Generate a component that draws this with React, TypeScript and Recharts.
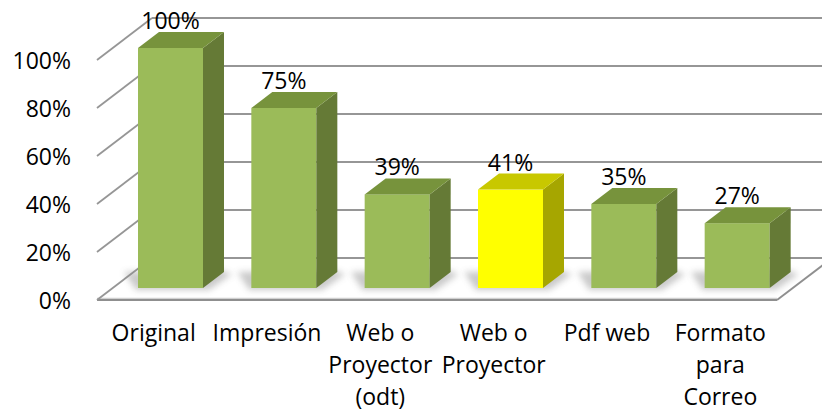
import React from 'react';
import { BarChart, Bar, XAxis, YAxis, CartesianGrid, LabelList } from 'recharts';

const categories = [
  'Original',
  'Impresión',
  'Web o\nProyector\n(odt)',
  'Web o\nProyector',
  'Pdf web',
  'Formato\npara\nCorreo',
];
const values = [1.0, 0.75, 0.39, 0.41, 0.35, 0.27];
const yTicks = [0, 0.2, 0.4, 0.6, 0.8, 1];
const highlightIndex = 3;

const data = categories.map((name, i) => ({ name, value: values[i] }));

const FONT = '"Open Sans", sans-serif';
const FS = 23;
// 3D geometry
const DX = 17;
const DY = -12;
const SX = 21;
const SY = -16;
const BX = 55;
const BY = -42;
const GRID = '#969696';

const pct = (v: number) => `${Math.round(v * 100)}%`;

function GridLine(p: any) {
  const { x1, y1, x2, y, height, index } = p;
  const isFloor = Math.abs(y1 - (y + height)) < 0.5;
  return (
    <g key={`g-${index}`}>
      {isFloor && (
        <g>
          <polygon
            points={`${x1},${y1} ${x2},${y1} ${x2 + BX},${y1 + BY} ${x1 + BX},${y1 + BY}`}
            fill="#ffffff"
          />
          <line x1={x1} y1={y1 - 1.5} x2={x2} y2={y1 - 1.5} stroke="#d0d0d0" strokeWidth={1.5} />
          <line x1={x1} y1={y1} x2={x2} y2={y1} stroke="#8f8f8f" strokeWidth={2} />
          <line x1={x2} y1={y1} x2={x2 + BX} y2={y1 + BY} stroke="#8f8f8f" strokeWidth={2} />
        </g>
      )}
      <line x1={x1} y1={y1} x2={x1 + BX} y2={y1 + BY} stroke={GRID} strokeWidth={1.8} />
      <line x1={x1 + BX} y1={y1 + BY} x2={x2 + BX} y2={y1 + BY} stroke={GRID} strokeWidth={1.8} />
    </g>
  );
}

function Bar3D(props: any) {
  const { x, y, width, height, index } = props;
  if (height == null || width == null) return null;
  const hi = index === highlightIndex;
  const front = hi ? '#ffff00' : '#9bbb59';
  const side = hi ? '#a6a600' : '#657a36';
  const top = hi ? '#c8c800' : '#77933c';
  const fx = x + DX;
  const fy = y + DY;
  const h = height;
  const w = width;
  const by = fy + h;
  const fid = `shadow-${index}`;
  return (
    <g>
      <defs>
        <filter id={fid} x="-50%" y="-50%" width="200%" height="200%">
          <feGaussianBlur stdDeviation="3" />
        </filter>
      </defs>
      <polygon
        points={`${fx - 14},${by - 16} ${fx + w + SX - 4},${by + SY - 2} ${fx + w + SX + 8},${by + SY + 2} ${fx + w + 6},${by + 2} ${fx - 2},${by + 2}`}
        fill="#8a8a8a"
        opacity={0.45}
        filter={`url(#${fid})`}
      />
      <rect x={fx} y={fy} width={w} height={h} fill={front} />
      <polygon
        points={`${fx + w},${fy} ${fx + w + SX},${fy + SY} ${fx + w + SX},${by + SY} ${fx + w},${by}`}
        fill={side}
      />
      <polygon
        points={`${fx},${fy} ${fx + SX},${fy + SY} ${fx + w + SX},${fy + SY} ${fx + w},${fy}`}
        fill={top}
      />
    </g>
  );
}

function BarLabel(props: any) {
  const { x, y, width, value } = props;
  return (
    <text
      x={x + DX + width / 2}
      y={y + DY - 19}
      textAnchor="middle"
      fontFamily={FONT}
      fontSize={FS}
      fill="#000"
    >
      {pct(value)}
    </text>
  );
}

function YTick(props: any) {
  const { y, payload } = props;
  return (
    <text x={71} y={y} textAnchor="end" dominantBaseline="central" fontFamily={FONT} fontSize={FS} fill="#000">
      {pct(payload.value)}
    </text>
  );
}

function XTick(props: any) {
  const { x, y, payload } = props;
  const lines = String(payload.value).split('\n');
  return (
    <text x={x} y={y} textAnchor="middle" fontFamily={FONT} fontSize={FS} fill="#000">
      {lines.map((l, i) => (
        <tspan key={i} x={x} y={y + 41 + i * 32}>
          {l}
        </tspan>
      ))}
    </text>
  );
}

export default function App() {
  return (
    <div style={{ position: 'absolute', left: 0, top: 0, width: 822, height: 416, background: '#fff' }}>
      <BarChart
        width={822}
        height={416}
        data={data}
        margin={{ top: 60, right: 45, bottom: 0, left: 0 }}
        barCategoryGap={0}
      >
        <CartesianGrid vertical={false} horizontal={GridLine as any} />
        <XAxis
          dataKey="name"
          height={116}
          axisLine={false}
          tickLine={false}
          tickSize={0}
          tickMargin={0}
          interval={0}
          tick={<XTick />}
        />
        <YAxis
          width={97}
          domain={[0, 1]}
          ticks={yTicks}
          axisLine={false}
          tickLine={false}
          tick={<YTick />}
        />
        <Bar dataKey="value" barSize={65} isAnimationActive={false} shape={<Bar3D />}>
          <LabelList dataKey="value" content={<BarLabel />} />
        </Bar>
      </BarChart>
    </div>
  );
}
